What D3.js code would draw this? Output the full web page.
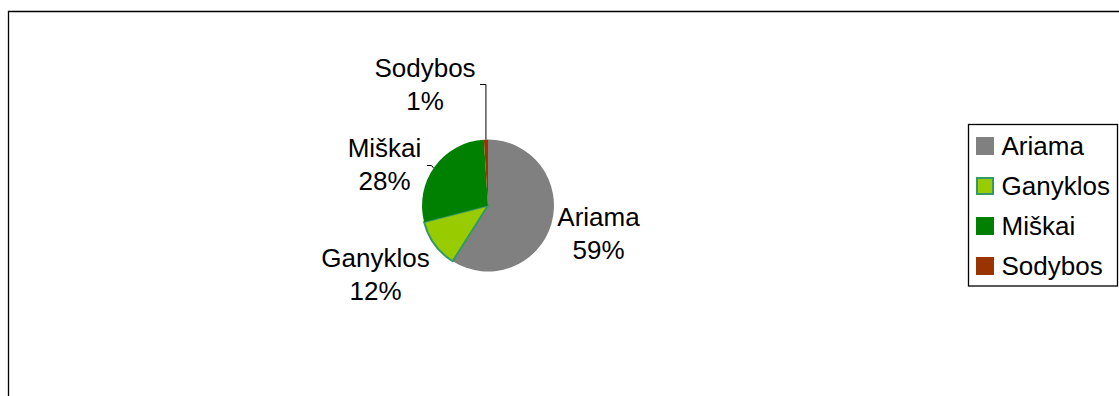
<!DOCTYPE html>
<html>
<head>
<meta charset="utf-8">
<script src="https://cdn.jsdelivr.net/npm/d3@7"></script>
<style>
  html, body { margin: 0; padding: 0; background: #fff; }
  svg { display: block; font-family: "Liberation Sans", Arial, sans-serif; }
</style>
</head>
<body>
<svg id="chart" width="1119" height="396"></svg>
<script>
// Land use shares (%)
const categories = ["Ariama", "Ganyklos", "Miškai", "Sodybos"];
const shares = [59, 12, 28, 1];
const fills = ["#808080", "#99CC00", "#008000", "#993300"];
const strokes = ["none", "#339966", "none", "none"];

const svg = d3.select("#chart");
const W = 1119, H = 396;

// outer chart frame (runs off the right and bottom edges)
svg.append("path")
  .attr("d", `M8.5,${H + 2} V11.5 H${W + 2}`)
  .attr("fill", "none")
  .attr("stroke", "#000")
  .attr("stroke-width", 1.3);

const cx = 488, cy = 205.5, r = 66;
const data = categories.map((c, i) => ({ name: c, value: shares[i], i }));

const pie = d3.pie().sort(null).value(d => d.value);
const arc = d3.arc().innerRadius(0).outerRadius(r);
const arcs = pie(data);

const g = svg.append("g").attr("transform", `translate(${cx},${cy})`);
g.selectAll("path.slice")
  .data(arcs)
  .join("path")
  .attr("class", "slice")
  .attr("d", arc)
  .attr("fill", d => fills[d.data.i])
  .attr("stroke", d => strokes[d.data.i])
  .attr("stroke-width", d => strokes[d.data.i] === "none" ? 0 : 2)
  .attr("stroke-linejoin", "round");

// data labels: name over percentage
const labelPos = {
  "Ariama":   { x: 598.5, y: 226 },
  "Ganyklos": { x: 375.5, y: 267 },
  "Miškai":   { x: 384.5, y: 157 },
  "Sodybos":  { x: 425, y: 77 }
};
const fs = 26, lineGap = 33;
arcs.forEach(a => {
  const p = labelPos[a.data.name];
  const t = svg.append("text")
    .attr("text-anchor", "middle")
    .attr("font-size", fs)
    .attr("fill", "#000");
  t.append("tspan").attr("x", p.x).attr("y", p.y).text(a.data.name);
  t.append("tspan").attr("x", p.x).attr("y", p.y + lineGap).text(a.data.value + "%");
});

// point on the pie rim at a given angle (radians, clockwise from 12 o'clock)
const rim = ang => [cx + r * Math.sin(ang), cy - r * Math.cos(ang)];

// leader lines for the labels sitting away from their slices
const leader = d3.line();
const sodA = arcs[3];
const [sx, sy] = rim((sodA.startAngle + sodA.endAngle) / 2);
svg.append("path")
  .attr("d", leader([[480, 84.5], [sx, 84.5], [sx, sy]]))
  .attr("fill", "none").attr("stroke", "#000").attr("stroke-width", 1);

const [mx, my] = rim(304.5 * Math.PI / 180);
svg.append("path")
  .attr("d", leader([[427, 165.5], [431.5, 165.5], [mx, my]]))
  .attr("fill", "none").attr("stroke", "#000").attr("stroke-width", 1);

// legend
const lg = svg.append("g");
lg.append("rect")
  .attr("x", 968.5).attr("y", 124.5)
  .attr("width", 149).attr("height", 161.5)
  .attr("fill", "#fff").attr("stroke", "#000").attr("stroke-width", 1.3);

const ly = d3.scalePoint().domain(categories).range([137, 257]);
categories.forEach((c, i) => {
  const y = ly(c);
  const bordered = strokes[i] !== "none";
  lg.append("rect")
    .attr("x", bordered ? 977 : 976)
    .attr("y", bordered ? y + 1 : y)
    .attr("width", bordered ? 16 : 18)
    .attr("height", bordered ? 16 : 18)
    .attr("fill", fills[i])
    .attr("stroke", strokes[i])
    .attr("stroke-width", bordered ? 2 : 0);
  lg.append("text")
    .attr("x", 1001.5).attr("y", y + 18)
    .attr("font-size", fs)
    .attr("fill", "#000")
    .text(c);
});
</script>
</body>
</html>
